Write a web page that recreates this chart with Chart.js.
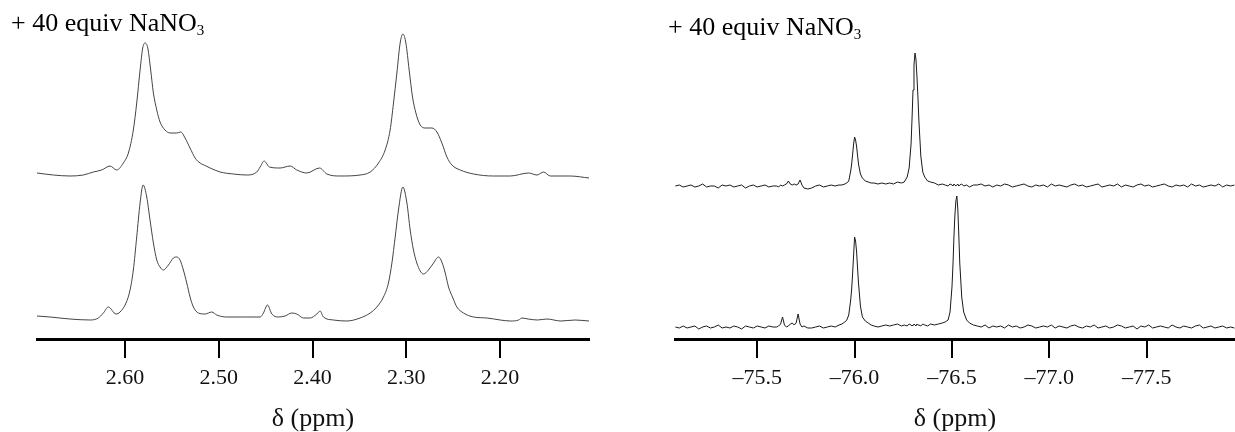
<!DOCTYPE html>
<html>
<head>
<meta charset="utf-8">
<script src="https://cdn.jsdelivr.net/npm/chart.js@4.4.1/dist/chart.umd.min.js"></script>
<style>
  html, body { margin: 0; padding: 0; background: #fff; }
  body { width: 1235px; height: 432px; position: relative; overflow: hidden; font-family: "Liberation Serif", "Times New Roman", serif; }
  .panel { position: absolute; top: 0; height: 432px; }
  #h1Box { left: 0; width: 620px; }
  #f19Box { left: 620px; width: 615px; }
  .note { position: absolute; font-size: 26px; line-height: 26px; color: #000; white-space: nowrap; }
  .note sub { font-size: 15px; vertical-align: -4px; line-height: 0; }
</style>
</head>
<body>
<div class="panel" id="h1Box"><canvas id="h1Chart"></canvas></div>
<div class="panel" id="f19Box"><canvas id="f19Chart"></canvas></div>
<div class="note" style="left:11px; top:10px">+ 40 equiv NaNO<sub>3</sub></div>
<div class="note" style="left:668px; top:14px">+ 40 equiv NaNO<sub>3</sub></div>
<script>
// left panel (1H), shift in ppm and intensity (arbitrary units, baseline = 0)
const h1TopPpm = [2.694, 2.6766, 2.6588, 2.6446, 2.6339, 2.625, 2.6161, 2.6089, 2.6019, 2.5965,
  2.5912, 2.5876, 2.584, 2.5812, 2.5787, 2.5758, 2.5727, 2.5698, 2.5662, 2.5627,
  2.5574, 2.552, 2.5449, 2.5406, 2.536, 2.5307, 2.5253, 2.52, 2.5136, 2.5093,
  2.4986, 2.4844, 2.4701, 2.4595, 2.4559, 2.4517, 2.446, 2.4346, 2.4239, 2.4168,
  2.4061, 2.3926, 2.3847, 2.3705, 2.3492, 2.3385, 2.3296, 2.3225, 2.3172, 2.3136,
  2.31, 2.3065, 2.3036, 2.3004, 2.2969, 2.2933, 2.2897, 2.2851, 2.2798, 2.2726,
  2.2673, 2.262, 2.2566, 2.2513, 2.2424, 2.2282, 2.2069, 2.189, 2.1695, 2.1605,
  2.1535, 2.1463, 2.125, 2.105];
const h1TopInt = [2, 0, -1, 0, 3, 5, 9, 5, 12, 22,
  45, 72, 105, 127, 132, 127, 105, 82, 65, 53,
  45, 42, 42, 43, 37, 27, 17, 12, 9, 7,
  3, 1, 0, 3, 8, 14, 8, 7, 9, 5,
  2, 7, 1, -1, 0, 3, 12, 25, 45, 72,
  102, 132, 141, 132, 105, 78, 62, 50, 47, 47,
  43, 32, 18, 10, 5, 1, -1, -1, 2, 0,
  3, -1, -1, -3];

const h1BotPpm = [2.694, 2.68, 2.659, 2.637, 2.6286, 2.6232, 2.6179, 2.6097, 2.6054, 2.599,
  2.5947, 2.5912, 2.5876, 2.584, 2.5808, 2.5769, 2.5734, 2.5698, 2.5662, 2.5627,
  2.5592, 2.5538, 2.5485, 2.5449, 2.5414, 2.5378, 2.5342, 2.5307, 2.5271, 2.5218,
  2.5147, 2.5075, 2.5022, 2.4915, 2.4701, 2.4559, 2.4524, 2.4481, 2.4434, 2.4364,
  2.4293, 2.4221, 2.4168, 2.4097, 2.4026, 2.3954, 2.3919, 2.3884, 2.3777, 2.3634,
  2.3492, 2.3385, 2.3314, 2.3243, 2.319, 2.3153, 2.3118, 2.3083, 2.3036, 2.2993,
  2.2958, 2.2923, 2.2887, 2.2851, 2.2816, 2.2763, 2.2709, 2.2656, 2.262, 2.2584,
  2.2549, 2.2502, 2.246, 2.2389, 2.2282, 2.2139, 2.1997, 2.189, 2.18, 2.1766,
  2.17, 2.16, 2.15, 2.135, 2.12, 2.105];
const h1BotInt = [2, 1, -1, -2, 0, 5, 11, 4, 6, 15,
  28, 48, 81, 115, 133, 121, 98, 75, 58, 51,
  48, 53, 60, 61, 58, 48, 35, 21, 11, 5,
  4, 6, 3, 1, 1, 1, 5, 13, 4, 1,
  2, 5, 4, 0, 0, 4, 7, 1, -2, -3,
  0, 5, 11, 21, 35, 55, 81, 108, 131, 115,
  88, 68, 55, 47, 44, 48, 55, 61, 56, 45,
  31, 20, 11, 5, 1, 0, -2, -3, -2, 0,
  -1, -2, -1, -3, -2, -3];

const h1Ticks = [2.6, 2.5, 2.4, 2.3, 2.2];
const h1TickLabels = ['2.60', '2.50', '2.40', '2.30', '2.20'];

// right panel (19F), both traces share the same shift list
const f19Ppm = [-75.08, -75.10, -75.12, -75.14, -75.16, -75.18, -75.20, -75.22, -75.24, -75.26,
  -75.28, -75.30, -75.32, -75.34, -75.36, -75.38, -75.40, -75.42, -75.44, -75.46,
  -75.48, -75.50, -75.52, -75.54, -75.56, -75.58,
  -75.60, -75.61, -75.62, -75.63, -75.64, -75.65, -75.66, -75.67, -75.68, -75.69,
  -75.70, -75.71, -75.72, -75.73, -75.74, -75.76,
  -75.78, -75.80, -75.82, -75.84, -75.86, -75.88, -75.90, -75.92,
  -75.935, -75.95, -75.96, -75.97, -75.98, -75.985, -75.99, -75.995, -76.00, -76.005,
  -76.01, -76.015, -76.02, -76.03, -76.04, -76.055, -76.07, -76.085, -76.10,
  -76.12, -76.14, -76.16, -76.18, -76.20, -76.22, -76.24,
  -76.255, -76.27, -76.28, -76.29, -76.295, -76.30, -76.305, -76.31, -76.315, -76.32,
  -76.325, -76.33, -76.34, -76.35, -76.36, -76.375, -76.39, -76.41,
  -76.43, -76.45,
  -76.465, -76.48, -76.49, -76.50, -76.505, -76.51, -76.515, -76.52, -76.525, -76.53,
  -76.535, -76.54, -76.55, -76.56, -76.575, -76.59, -76.61,
  -76.63, -76.65, -76.67, -76.69, -76.71, -76.73, -76.75, -76.77, -76.79, -76.81,
  -76.83, -76.85, -76.87, -76.89, -76.91, -76.93, -76.95, -76.97, -76.99, -77.01,
  -77.03, -77.05, -77.07, -77.09, -77.11, -77.13, -77.15, -77.17, -77.19, -77.21,
  -77.23, -77.25, -77.27, -77.29, -77.31, -77.33, -77.35, -77.37, -77.39, -77.41,
  -77.43, -77.45, -77.47, -77.49, -77.51, -77.53, -77.55, -77.57, -77.59, -77.61,
  -77.63, -77.65, -77.67, -77.69, -77.71, -77.73, -77.75, -77.77, -77.79, -77.81,
  -77.83, -77.85, -77.87, -77.89, -77.91, -77.93, -77.95];
const f19Top = [0, 1, -1, 0, 1, -1, 0, 2, -1, 0,
  0, -2, 1, 0, 1, -1, 0, 1, -2, 0,
  1, -1, 0, 1, -1, 0,
  0, -1, 1, 0, 1, 2, 5, 2, 1, 2,
  1, 2, 6, 1, -2, -3,
  -2, 0, 1, -1, 0, 1, 0, 1,
  1, 2, 3, 5, 15, 22, 32, 42, 49, 46,
  40, 31, 22, 12, 8, 5, 4, 3, 3,
  2, 3, 2, 3, 2, 4, 3,
  4, 9, 18, 42, 68, 96, 121, 133, 127, 110,
  90, 66, 30, 14, 9, 5, 4, 3,
  1, 2,
  1, 0, 2, 1, 0, 2, 1, 0, 1, 2,
  0, 1, 2, 0, 1, -1, 1,
  1, 2, 0, 1, -1, 1, 0, 2, 1, -1,
  0, 1, 2, 0, -1, 1, 0, 1, -1, 2,
  0, 1, 0, -1, 1, 2, 0, 1, -1, 0,
  1, 2, -1, 0, 1, 0, 2, -1, 1, 0,
  -1, 1, 2, 0, 1, -1, 0, 1, 2, 0,
  -1, 1, 0, 1, -1, 2, 0, 1, -1, 0,
  1, 0, 2, -1, 1, 0, 1];
const f19Bot = [0, -1, 1, -1, 0, 1, -2, 0, 1, -1,
  0, 2, -1, 0, -1, 1, 0, -2, 1, 0,
  -1, 1, 0, -1, 1, 0,
  0, 1, 3, 10, 2, 0, 1, 3, 4, 2,
  4, 13, 3, 0, 1, -1,
  -1, 0, 1, -1, 0, 1, 0, 2,
  3, 5, 7, 12, 27, 38, 54, 72, 90, 86,
  76, 60, 44, 21, 10, 6, 4, 2, 1,
  0, 1, 2, 1, 2, 3, 1,
  2, 1, 3, 2, 1, 2, 3, 2, 1, 3,
  2, 2, 1, 3, 2, 1, 3, 2,
  3, 4,
  5, 7, 15, 40, 62, 90, 112, 126, 131, 118,
  92, 64, 30, 15, 7, 4, 2,
  1, 0, 2, -1, 1, 0, 1, -1, 2, 0,
  1, -1, 0, 2, 1, -1, 0, 1, 0, 2,
  -1, 1, 0, -1, 1, 2, 0, -1, 1, 0,
  2, -1, 0, 1, -1, 0, 2, 1, -1, 0,
  1, -2, 1, 0, 2, -1, 0, 1, 0, -1,
  2, 0, -1, 1, 0, -1, 1, 2, -1, 0,
  1, -1, 0, 1, -1, 0, -1];

const f19Ticks = [-75.5, -76.0, -76.5, -77.0, -77.5];
const f19TickLabels = ['\u201375.5', '\u201376.0', '\u201376.5', '\u201377.0', '\u201377.5'];

const SERIF = '"Liberation Serif", "Times New Roman", serif';

function pairs(xs, ys, lift) {
  return xs.map((x, i) => ({ x: x, y: ys[i] + lift }));
}

function spectrum(id, o) {
  new Chart(document.getElementById(id), {
    type: 'line',
    data: {
      datasets: o.traces.map(t => ({
        data: t,
        borderColor: o.color,
        borderWidth: 1,
        pointRadius: 0,
        fill: false,
        cubicInterpolationMode: o.smooth ? 'monotone' : 'default',
        tension: 0
      }))
    },
    options: {
      responsive: true,
      maintainAspectRatio: false,
      animation: false,
      layout: { padding: o.padding },
      plugins: { legend: { display: false }, tooltip: { enabled: false } },
      scales: {
        x: {
          type: 'linear',
          reverse: true,
          min: o.xmin,
          max: o.xmax,
          afterBuildTicks: s => { s.ticks = o.ticks.map(v => ({ value: v })); },
          afterFit: s => { s.height = 93; },
          border: { display: true, color: '#000', width: 3 },
          grid: { drawOnChartArea: false, drawTicks: true, tickLength: 19, color: '#000', lineWidth: 2 },
          ticks: {
            callback: (v, i) => o.labels[i],
            font: { family: SERIF, size: 22 },
            color: '#111',
            padding: 7,
            maxRotation: 0,
            autoSkip: false
          },
          title: {
            display: true,
            text: '\u03b4 (ppm)',
            font: { family: SERIF, size: 26, lineHeight: 1 },
            color: '#111',
            padding: 0
          }
        },
        y: { display: false, min: o.ymin, max: o.ymax }
      }
    }
  });
}

spectrum('h1Chart', {
  traces: [pairs(h1TopPpm, h1TopInt, 143), pairs(h1BotPpm, h1BotInt, 0)],
  color: '#444',
  smooth: true,
  padding: { left: 37, right: 31, top: 20, bottom: 0 },
  xmin: 2.105, xmax: 2.694,
  ymin: -21, ymax: 298,
  ticks: h1Ticks, labels: h1TickLabels
});

spectrum('f19Chart', {
  traces: [pairs(f19Ppm, f19Top, 141), pairs(f19Ppm, f19Bot, 0)],
  color: '#1a1a1a',
  smooth: false,
  padding: { left: 55, right: 0, top: 20, bottom: 0 },
  xmin: -77.953, xmax: -75.078,
  ymin: -12, ymax: 307,
  ticks: f19Ticks, labels: f19TickLabels
});
</script>
</body>
</html>
